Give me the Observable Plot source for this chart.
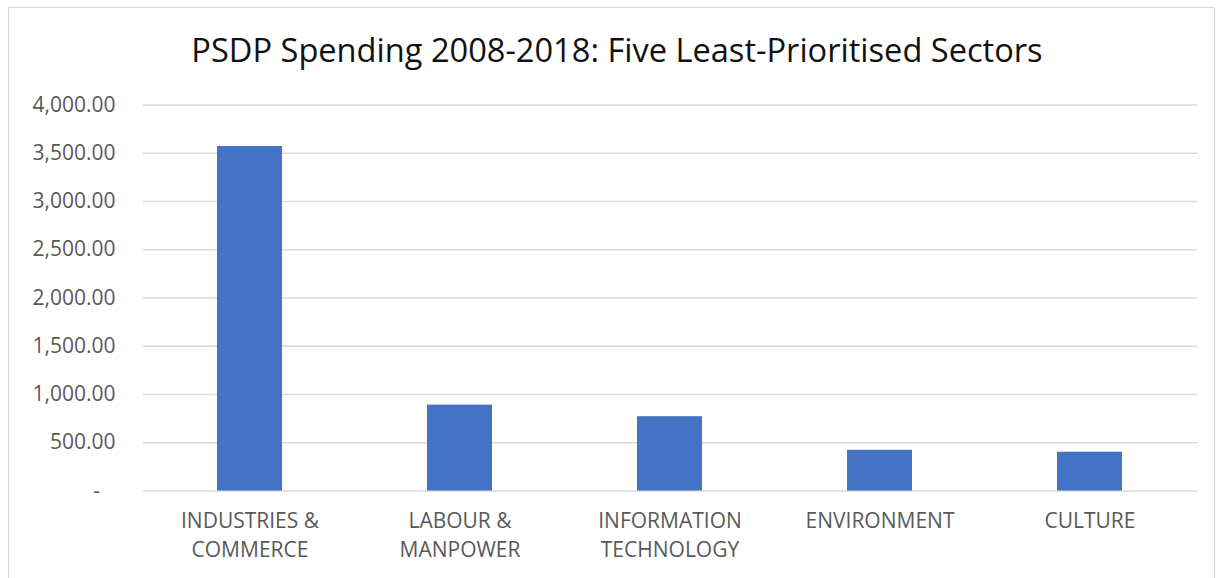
<!DOCTYPE html>
<html>
<head>
<meta charset="utf-8">
<script src="https://cdn.jsdelivr.net/npm/d3@7"></script>
<script src="https://cdn.jsdelivr.net/npm/@observablehq/plot@0.6"></script>
<style>
  html, body { margin: 0; padding: 0; background: #fff; overflow: hidden; }
  body { width: 1226px; height: 578px; position: relative; font-family: "Open Sans", sans-serif; }
  #frame { position: absolute; left: 8px; top: 7px; width: 1207px; height: 620px; border: 1px solid #d9d9d9; box-sizing: border-box; }
  #title { position: relative; height: 85px; line-height: 100px; text-align: center; font-size: 32.6px; color: #111; white-space: nowrap; padding-left: 8px; }
  #chart { position: relative; }
</style>
</head>
<body>
<div id="frame"></div>
<div id="title">PSDP Spending 2008-2018: Five Least-Prioritised Sectors</div>
<div id="chart"></div>
<script>
const sectors = ["INDUSTRIES & COMMERCE", "LABOUR & MANPOWER", "INFORMATION TECHNOLOGY", "ENVIRONMENT", "CULTURE"];
const sectorLabels = ["INDUSTRIES &\nCOMMERCE", "LABOUR &\nMANPOWER", "INFORMATION\nTECHNOLOGY", "ENVIRONMENT", "CULTURE"];
const spending = [3570, 890, 770, 422, 402];
const yTicks = [0, 500, 1000, 1500, 2000, 2500, 3000, 3500, 4000];

const data = sectors.map((s, i) => ({sector: s, value: spending[i]}));
const labelOf = new Map(sectors.map((s, i) => [s, sectorLabels[i]]));
const fmt = d3.format(",.2f");

const chart = Plot.plot({
  width: 1226,
  height: 493,
  marginTop: 19.5,
  marginBottom: 87.5,
  marginLeft: 143,
  marginRight: 29,
  style: {fontFamily: "'Open Sans', sans-serif", fontSize: "21px", color: "#595959", background: "transparent"},
  x: {domain: sectors, paddingInner: 0.69, paddingOuter: 0.345, label: null},
  y: {domain: [0, 4000], label: null},
  marks: [
    Plot.ruleY(yTicks, {stroke: "#d9d9d9", strokeWidth: 1.3}),
    Plot.barY(data, {x: "sector", y: "value", fill: "#4472c4"}),
    Plot.axisY({ticks: yTicks, tickSize: 0, tickPadding: 28, tickFormat: d => d === 0 ? "-\u2007\u2009" : fmt(d), fill: "#595959", fontSize: 21}),
    Plot.axisX({tickSize: 0, tickPadding: 16, tickFormat: d => labelOf.get(d), lineHeight: 1.38, fill: "#595959", fontSize: 21})
  ]
});
document.getElementById("chart").appendChild(chart);
</script>
</body>
</html>
